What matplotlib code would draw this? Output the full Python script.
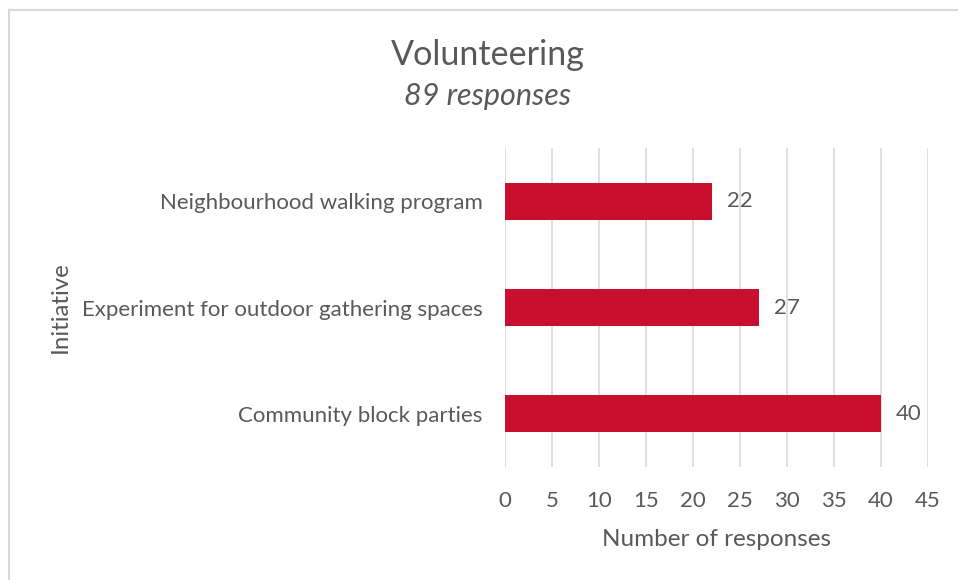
import matplotlib
matplotlib.use("Agg")
import matplotlib.pyplot as plt
from matplotlib.lines import Line2D

categories = ["Community block parties", "Experiment for outdoor gathering spaces", "Neighbourhood walking program"]
values = [40, 27, 22]
xticks = [0, 5, 10, 15, 20, 25, 30, 35, 40, 45]
title = "Volunteering"
subtitle = "89 responses"
xlabel = "Number of responses"
ylabel = "Initiative"

plt.rcParams['font.family'] = ['Lato', 'DejaVu Sans']
TXT = "#595959"
BAR = "#C8102E"
GRID = "#D9D9D9"

W, H = 958, 580
fig = plt.figure(figsize=(W/100, H/100), dpi=100)
ax = fig.add_axes([505/W, 1-467/H, (928-505)/W, (467-148)/H])

ypos = list(range(len(categories)))
ax.barh(ypos, values, height=0.35, color=BAR, zorder=3)
for y, v in zip(ypos, values):
    ax.text(v + 1.6, y, str(v), va='center', ha='left', fontsize=16, color=TXT)

ax.set_xlim(0, 45)
ax.set_ylim(-0.5, len(categories)-0.5)
ax.set_xticks(xticks)
ax.set_xticklabels([str(t) for t in xticks], fontsize=16, color=TXT)
ax.set_yticks(ypos)
ax.set_yticklabels(categories, fontsize=16, color=TXT)
ax.tick_params(axis='both', length=0)
ax.tick_params(axis='x', pad=17)
ax.tick_params(axis='y', pad=16)
ax.grid(axis='x', color=GRID, linewidth=1.2, zorder=0)
for s in ax.spines.values():
    s.set_visible(False)

ax.set_xlabel(xlabel, fontsize=17.5, color=TXT, labelpad=13)
fig.text(60/W, 1-307/H, ylabel, rotation=90, fontsize=17.3, color=TXT, ha='center', va='center')

fig.text(488/W, 1-55/H, title, fontsize=24.6, color=TXT, ha='center', va='center')
fig.text(488/W, 1-96/H, subtitle, fontsize=22, color=TXT, ha='center', va='center', style='italic')

fig.add_artist(Line2D([8.5/W, 8.5/W], [0, 1-9.5/H], color=GRID, linewidth=1.5, transform=fig.transFigure))
fig.add_artist(Line2D([8.5/W, 1], [1-9.5/H, 1-9.5/H], color=GRID, linewidth=1.5, transform=fig.transFigure))

fig.savefig("out.png", dpi=100)
